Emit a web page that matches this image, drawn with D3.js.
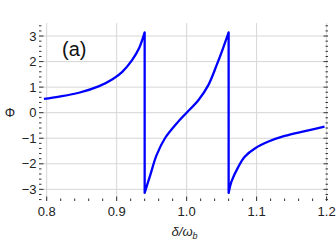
<!DOCTYPE html>
<html>
<head>
<meta charset="utf-8">
<script src="https://cdn.jsdelivr.net/npm/d3@7"></script>
<style>
  body { margin: 0; background: #fff; }
  text { font-family: "Liberation Sans", Arial, sans-serif; }
</style>
</head>
<body>
<div id="chart"></div>
<script>
// phase curve, three branches between the 2pi jumps
var seg1X = [0.796, 0.818, 0.846, 0.875, 0.894, 0.908, 0.922, 0.932, 0.940];
var seg1Y = [0.54, 0.63, 0.78, 1.04, 1.31, 1.60, 2.06, 2.52, 3.14];

var seg2X = [0.940, 0.948, 0.957, 0.969, 0.986, 1.000, 1.017, 1.031, 1.043, 1.052, 1.060];
var seg2Y = [-3.14, -2.44, -1.66, -1.00, -0.41, 0.00, 0.50, 1.08, 1.87, 2.52, 3.14];

var seg3X = [1.060, 1.064, 1.074, 1.083, 1.098, 1.117, 1.140, 1.169, 1.197];
var seg3Y = [-3.14, -2.70, -2.11, -1.72, -1.39, -1.13, -0.91, -0.72, -0.55];

var xTicks = [0.8, 0.9, 1.0, 1.1, 1.2];
var yTicks = [-3, -2, -1, 0, 1, 2, 3];

var width = 336, height = 242;
var margin = {top: 23, right: 8, bottom: 41, left: 39};

var svg = d3.select("#chart")
    .append("svg")
    .attr("width", width)
    .attr("height", height);

var x = d3.scaleLinear().domain([0.789, 1.202]).range([margin.left, width - margin.right]);
var y = d3.scaleLinear().domain([-3.456, 3.51]).range([height - margin.bottom, margin.top]);

// grid
svg.append("g").selectAll("line")
    .data(xTicks)
    .enter().append("line")
    .attr("x1", function(d) { return x(d); })
    .attr("x2", function(d) { return x(d); })
    .attr("y1", y.range()[0])
    .attr("y2", y.range()[1])
    .style("stroke", "#d6d6d6")
    .style("stroke-width", 1);

svg.append("g").selectAll("line")
    .data(yTicks)
    .enter().append("line")
    .attr("x1", x.range()[0])
    .attr("x2", x.range()[1])
    .attr("y1", function(d) { return y(d); })
    .attr("y2", function(d) { return y(d); })
    .style("stroke", "#d6d6d6")
    .style("stroke-width", 1);

// frame ticks, pointing inwards on all four sides
var xMinor = d3.range(0.80, 1.2001, 0.02);
var yMinor = d3.range(-3.4, 3.41, 0.2);
var bottom = y.range()[0], top = y.range()[1], left = x.range()[0], right = x.range()[1];

function isMajor(v, step) { return Math.abs(v / step - Math.round(v / step)) < 1e-6; }

var tg = svg.append("g").style("stroke", "#333").style("stroke-width", 1);
xMinor.forEach(function(v) {
    var len = isMajor(v, 0.1) ? 4.5 : 2.5;
    tg.append("line").attr("x1", x(v)).attr("x2", x(v)).attr("y1", bottom).attr("y2", bottom - len);
    tg.append("line").attr("x1", x(v)).attr("x2", x(v)).attr("y1", top).attr("y2", top + len);
});
yMinor.forEach(function(v) {
    var len = isMajor(v, 1) ? 4.5 : 2.5;
    tg.append("line").attr("y1", y(v)).attr("y2", y(v)).attr("x1", left).attr("x2", left + len);
    tg.append("line").attr("y1", y(v)).attr("y2", y(v)).attr("x1", right).attr("x2", right - len);
});

// tick labels
svg.append("g").selectAll("text")
    .data(xTicks)
    .enter().append("text")
    .attr("x", function(d) { return x(d); })
    .attr("y", bottom + 15)
    .attr("text-anchor", "middle")
    .style("font-size", "13px")
    .style("fill", "#222")
    .text(function(d) { return d3.format(".1f")(d); });

svg.append("g").selectAll("text")
    .data(yTicks)
    .enter().append("text")
    .attr("x", left - 2.5)
    .attr("y", function(d) { return y(d) + 4.7; })
    .attr("text-anchor", "end")
    .style("font-size", "13px")
    .style("fill", "#222")
    .text(function(d) { return d < 0 ? "\u2212" + Math.abs(d) : d; });

// the curve: each branch smoothed, joined by the vertical jumps
var line = d3.line()
    .x(function(d) { return x(d[0]); })
    .y(function(d) { return y(d[1]); })
    .curve(d3.curveCatmullRom.alpha(0.5));

var pathStr = [[seg1X, seg1Y], [seg2X, seg2Y], [seg3X, seg3Y]].map(function(s, i) {
    var p = line(d3.zip(s[0], s[1]));
    return i == 0 ? p : p.replace(/^M/, "L");
}).join("");

svg.append("path")
    .attr("d", pathStr)
    .style("fill", "none")
    .style("stroke", "#0000ff")
    .style("stroke-width", 2.3)
    .style("stroke-linejoin", "round");

// frame on top
svg.append("rect")
    .attr("x", left)
    .attr("y", top)
    .attr("width", right - left)
    .attr("height", bottom - top)
    .style("fill", "none")
    .style("stroke", "#222")
    .style("stroke-width", 1.2);

// panel label
svg.append("text")
    .attr("x", x(0.822))
    .attr("y", y(2.22))
    .style("font-size", "20px")
    .style("fill", "#111")
    .text("(a)");

// axis labels
var xl = svg.append("text")
    .attr("x", x(0.997))
    .attr("y", 236)
    .attr("text-anchor", "middle")
    .style("font-size", "13px")
    .style("fill", "#222");
xl.append("tspan").style("font-style", "italic").text("\u03b4/\u03c9");
xl.append("tspan").attr("dy", 3).style("font-size", "9px").style("font-style", "italic").text("b");

svg.append("text")
    .attr("x", 10)
    .attr("y", y(0) + 4.5)
    .attr("text-anchor", "middle")
    .style("font-size", "13px")
    .style("fill", "#222")
    .text("\u03a6");
</script>
</body>
</html>
